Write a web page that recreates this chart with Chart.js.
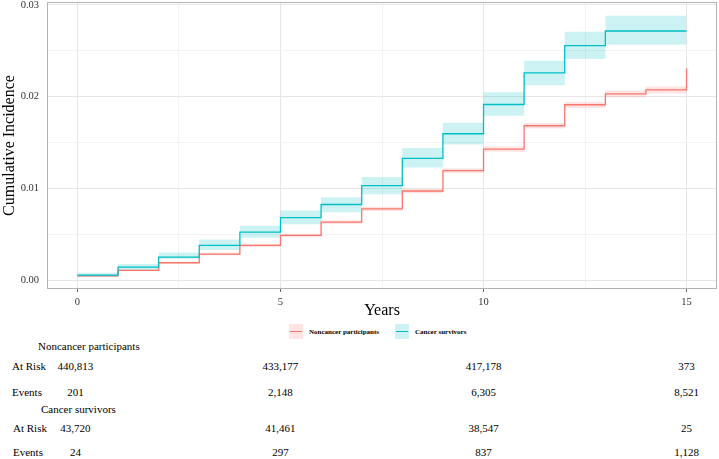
<!DOCTYPE html>
<html>
<head>
<meta charset="utf-8">
<script src="https://cdn.jsdelivr.net/npm/chart.js@4/dist/chart.umd.min.js"></script>
<style>
  body { margin: 0; background: #fff; }
  #wrap { position: relative; width: 719px; height: 459px; font-family: "Liberation Serif", "DejaVu Serif", serif; color: #000; }
  #plot { position: absolute; left: 0; top: 0; width: 719px; height: 320px; }
  .lbl { position: absolute; font-size: 11px; white-space: nowrap; line-height: 1; transform: translateY(-50%); }
  .num { transform: translate(-50%, -50%); }
  #legend { position: absolute; top: 324px; left: 289px; height: 15px; display: flex; align-items: center; font-size: 7px; font-weight: bold; }
  .key { width: 14px; height: 15px; position: relative; margin-right: 6px; }
  .key span { position: absolute; left: 1px; right: 1px; top: 7px; height: 1.3px; }
</style>
</head>
<body>
<div id="wrap">
  <div id="plot"><canvas id="chart"></canvas></div>
  <div id="legend">
    <div class="key" style="background: rgba(248,118,109,0.2)"><span style="background:#F8766D"></span></div>
    <div style="margin-right: 16px">Noncancer participants</div>
    <div class="key" style="background: rgba(0,191,196,0.2)"><span style="background:#00BFC4"></span></div>
    <div>Cancer survivors</div>
  </div>
</div>
<script>
const years = [0, 1, 2, 3, 4, 5, 6, 7, 8, 9, 10, 11, 12, 13, 14, 15];

const noncancer      = [0.00045, 0.00105, 0.00188, 0.00283, 0.00377, 0.00486, 0.0063, 0.00775, 0.0097, 0.01192, 0.01427, 0.01681, 0.0191, 0.02029, 0.02072, 0.02308];
const noncancerLower = [0.0004, 0.00095, 0.00176, 0.00268, 0.0036, 0.00468, 0.0061, 0.00752, 0.00945, 0.01165, 0.01398, 0.0165, 0.01876, 0.01993, 0.02034, 0.02034];
const noncancerUpper = [0.0005, 0.00115, 0.002, 0.00298, 0.00394, 0.00504, 0.0065, 0.00798, 0.00995, 0.01219, 0.01456, 0.01712, 0.01944, 0.02065, 0.0211, 0.0211];

const cancer      = [0.00054, 0.00141, 0.0025, 0.00377, 0.00522, 0.00681, 0.00823, 0.01029, 0.01326, 0.01594, 0.01913, 0.02257, 0.02554, 0.02714, 0.02714, 0.02714];
const cancerLower = [0.0003, 0.0011, 0.00232, 0.00326, 0.0046, 0.00609, 0.00739, 0.00935, 0.01225, 0.01478, 0.0179, 0.02123, 0.0241, 0.02565, 0.02565, 0.02565];
const cancerUpper = [0.0008, 0.00174, 0.00301, 0.00442, 0.0059, 0.00757, 0.00902, 0.01123, 0.01438, 0.01714, 0.02047, 0.02391, 0.02707, 0.0288, 0.0288, 0.0288];

const xTicks = [0, 2.5, 5, 7.5, 10, 12.5, 15];
const yTicks = [0, 0.005, 0.01, 0.015, 0.02, 0.025, 0.03];

// risk table
const tableYears = [0, 5, 10, 15];
const noncancerAtRisk = ['440,813', '433,177', '417,178', '373'];
const noncancerEvents = ['201', '2,148', '6,305', '8,521'];
const cancerAtRisk = ['43,720', '41,461', '38,547', '25'];
const cancerEvents = ['24', '297', '837', '1,128'];

const RED = '#F8766D';
const TEAL = '#00BFC4';

const pts = vals => years.map((x, i) => ({ x, y: vals[i] }));

function lineSet(label, vals, color) {
  return { label, data: pts(vals), borderColor: color, borderWidth: 1.3, pointRadius: 0, stepped: 'before', fill: false };
}
function bandSet(vals, fill, color) {
  return { data: pts(vals), borderWidth: 0, borderColor: 'transparent', pointRadius: 0, stepped: 'before', fill, backgroundColor: color };
}

const isMajor = v => Math.abs(v % 5) < 1e-9;
const isMajorY = v => Math.abs(Math.round(v * 1000) % 10) < 1e-6;

const panelBorder = {
  id: 'panelBorder',
  afterDraw(chart) {
    const { ctx, chartArea: a } = chart;
    ctx.save();
    ctx.strokeStyle = '#b3b3b3';
    ctx.lineWidth = 1;
    ctx.strokeRect(a.left + 0.5, a.top + 0.5, a.right - a.left - 1, a.bottom - a.top - 1);
    ctx.restore();
  }
};

const chart = new Chart(document.getElementById('chart'), {
  type: 'line',
  data: {
    datasets: [
      lineSet('Cancer survivors', cancer, TEAL),
      lineSet('Noncancer participants', noncancer, RED),
      bandSet(cancerUpper, '+1', 'rgba(0,191,196,0.2)'),
      bandSet(cancerLower, false, 'rgba(0,191,196,0.2)'),
      bandSet(noncancerUpper, '+1', 'rgba(248,118,109,0.2)'),
      bandSet(noncancerLower, false, 'rgba(248,118,109,0.2)')
    ]
  },
  options: {
    responsive: true,
    maintainAspectRatio: false,
    animation: false,
    events: [],
    layout: { padding: { top: 2, right: 2, left: 0, bottom: 0 } },
    plugins: { legend: { display: false }, tooltip: { enabled: false } },
    scales: {
      x: {
        type: 'linear',
        min: -0.75,
        max: 15.75,
        afterBuildTicks: s => { s.ticks = xTicks.map(value => ({ value })); },
        afterFit: s => { s.height = 31; s.paddingLeft = 0; s.paddingRight = 0; },
        border: { display: false },
        grid: {
          color: c => isMajor(c.tick.value) ? '#e6e6e6' : '#f3f3f3',
          tickColor: c => isMajor(c.tick.value) ? '#666' : 'rgba(0,0,0,0)',
          tickLength: 3,
          lineWidth: 1
        },
        ticks: {
          autoSkip: false,
          maxRotation: 0,
          padding: 4,
          color: '#333',
          font: { family: 'Liberation Serif', size: 10.5 },
          callback: v => isMajor(v) ? String(v) : ''
        },
        title: {
          display: true,
          text: 'Years',
          color: '#000',
          padding: { top: 0, bottom: 0 },
          font: { family: 'Liberation Serif', size: 16 }
        }
      },
      y: {
        min: -0.00098,
        max: 0.0303,
        afterBuildTicks: s => { s.ticks = yTicks.map(value => ({ value })); },
        afterFit: s => { s.width = 47; s.paddingTop = 0; s.paddingBottom = 0; },
        border: { display: false },
        grid: {
          color: c => isMajorY(c.tick.value) ? '#e6e6e6' : '#f3f3f3',
          drawTicks: false,
          lineWidth: 1
        },
        ticks: {
          padding: 8,
          color: '#333',
          font: { family: 'Liberation Serif', size: 10.5 },
          callback: v => isMajorY(v) ? v.toFixed(2) : ''
        },
        title: {
          display: true,
          text: 'Cumulative Incidence',
          color: '#000',
          padding: { top: 0, bottom: 0 },
          font: { family: 'Liberation Serif', size: 16 }
        }
      }
    }
  },
  plugins: [panelBorder]
});

// build the at-risk table under the plot, columns follow the x scale
const wrap = document.getElementById('wrap');
function addLabel(text, left, top, cls) {
  const d = document.createElement('div');
  d.className = 'lbl' + (cls ? ' ' + cls : '');
  d.textContent = text;
  d.style.left = left + 'px';
  d.style.top = top + 'px';
  wrap.appendChild(d);
}
function addRow(name, nameX, y, values) {
  addLabel(name, nameX, y);
  tableYears.forEach((yr, i) => {
    const px = chart.scales.x.getPixelForValue(yr) - (i === 0 ? 2 : 0);
    addLabel(values[i], px, y, 'num');
  });
}

addLabel('Noncancer participants', 38, 346);
addRow('At Risk', 12, 366, noncancerAtRisk);
addRow('Events', 12, 392, noncancerEvents);
addLabel('Cancer survivors', 41, 409);
addRow('At Risk', 13, 428, cancerAtRisk);
addRow('Events', 13, 452, cancerEvents);
</script>
</body>
</html>
